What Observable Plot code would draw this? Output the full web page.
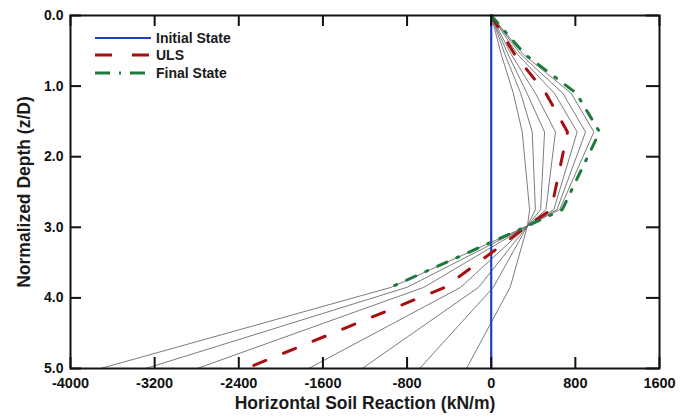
<!DOCTYPE html>
<html><head><meta charset="utf-8">
<script src="https://cdn.jsdelivr.net/npm/d3@7"></script>
<script src="https://cdn.jsdelivr.net/npm/@observablehq/plot@0.6"></script>
<style>
body{margin:0;background:#fff;font-family:"Liberation Sans",Arial,sans-serif}
#wrap{position:relative;width:690px;height:417px}
#legend{position:absolute;left:95px;top:29px;font-weight:bold;font-size:14px;color:#1a1a1a}
.row{display:flex;align-items:center;height:17.5px}
.row svg{margin-right:5px}
</style></head><body><div id="wrap"><div id="chart"></div><div id="legend"></div></div>
<script>
// Normalized depth nodes (z/D)
const depth = [0, 0.55, 1.1, 1.65, 2.75, 2.98, 3.85, 5.0];
// Intermediate load stages (thin gray curves), horizontal soil reaction kN/m
const stage1 = [0, 95, 210, 295, 365, 345, 180, -235];
const stage2 = [0, 130, 280, 390, 420, 345, 20, -680];
const stage3 = [0, 160, 340, 507, 470, 345, -120, -1227];
const stage4 = [0, 190, 420, 611, 520, 345, -290, -1736];
const stage5 = [0, 250, 600, 817, 595, 345, -640, -2796];
const stage6 = [0, 280, 680, 897, 625, 345, -800, -3286];
const stage7 = [0, 305, 760, 976, 650, 345, -950, -3714];
// Highlighted states
const initialDepth = [0, 5];
const initialValues = [0, 0];
const ulsValues = [0, 222, 519, 725, 570, 345, -440, -2330];
const finalDepth = [0, 0.55, 1.1, 1.65, 2.75, 2.98, 3.85];
const finalValues = [0, 320, 808, 1030, 675, 345, -957];
// Axis ticks
const xTicks = [-4000, -3200, -2400, -1600, -800, 0, 800, 1600];
const yTicks = [0, 1, 2, 3, 4, 5];

const stages = [stage1, stage2, stage3, stage4, stage5, stage6, stage7];
const grayRows = stages.flatMap((s, k) => s.map((v, i) => ({stage: k, x: v, z: depth[i]})));
const initRows = initialValues.map((v, i) => ({x: v, z: initialDepth[i]}));
const ulsRows = ulsValues.map((v, i) => ({x: v, z: depth[i]}));
const finalRows = finalValues.map((v, i) => ({x: v, z: finalDepth[i]}));

const W = 690, H = 417, mL = 70, mR = 31, mT = 15, mB = 49;
const innerW = W - mL - mR, innerH = H - mT - mB;
const BLUE = "#1f3fbf", RED = "#a80f12", GREEN = "#1d7a3c";

const chart = Plot.plot({
  width: W, height: H,
  marginLeft: mL, marginRight: mR, marginTop: mT, marginBottom: mB,
  style: {fontFamily: "Liberation Sans, Arial, sans-serif", background: "white"},
  x: {domain: [-4000, 1600]},
  y: {domain: [0, 5], reverse: true},
  marks: [
    Plot.line(grayRows, {x: "x", y: "z", z: "stage", stroke: "#5a5a5a", strokeWidth: 0.8}),
    Plot.line(initRows, {x: "x", y: "z", stroke: BLUE, strokeWidth: 2.2}),
    Plot.line(ulsRows, {x: "x", y: "z", stroke: RED, strokeWidth: 3, strokeDasharray: "13,19"}),
    Plot.line(finalRows, {x: "x", y: "z", stroke: GREEN, strokeWidth: 3, strokeDasharray: "10,11,2,11"}),
    // inward ticks on all four sides
    Plot.tickX(xTicks, {x: d => d, insetTop: innerH - 11, stroke: "#111", strokeWidth: 2}),
    Plot.tickX(xTicks, {x: d => d, insetBottom: innerH - 11, stroke: "#111", strokeWidth: 2}),
    Plot.tickY(yTicks, {y: d => d, insetRight: innerW - 11, stroke: "#111", strokeWidth: 2}),
    Plot.tickY(yTicks, {y: d => d, insetLeft: innerW - 13, stroke: "#111", strokeWidth: 2}),
    Plot.frame({stroke: "#111", strokeWidth: 2}),
    Plot.axisX({ticks: xTicks, tickSize: 0, tickPadding: 9, tickFormat: d => String(d), label: null, fontSize: 14.5, fontWeight: "bold", fill: "#111"}),
    Plot.axisY({ticks: yTicks, tickSize: 0, tickPadding: 7, tickFormat: d => d.toFixed(1), label: null, fontSize: 14, fontWeight: "bold", fill: "#111"}),
    Plot.text(["Horizontal Soil Reaction (kN/m)"], {frameAnchor: "bottom", dy: 40, fontSize: 17.5, fontWeight: "bold", fill: "#1a1a1a"}),
    Plot.text(["Normalized Depth (z/D)"], {frameAnchor: "left", dx: -46, rotate: -90, textAnchor: "middle", fontSize: 17.5, fontWeight: "bold", fill: "#1a1a1a"})
  ]
});
document.getElementById("chart").appendChild(chart);

// Legend
const legendItems = [
  {label: "Initial State", color: BLUE, dash: null, w: 2.2},
  {label: "ULS", color: RED, dash: "17,20", w: 3},
  {label: "Final State", color: GREEN, dash: "15,9,2,9", w: 3}
];
const lg = document.getElementById("legend");
for (const it of legendItems) {
  const row = document.createElement("div");
  row.className = "row";
  row.innerHTML = `<svg width="56" height="8"><line x1="0" x2="56" y1="4" y2="4" stroke="${it.color}" stroke-width="${it.w}" ${it.dash ? `stroke-dasharray="${it.dash}"` : ""}/></svg><span>${it.label}</span>`;
  lg.appendChild(row);
}
</script></body></html>
